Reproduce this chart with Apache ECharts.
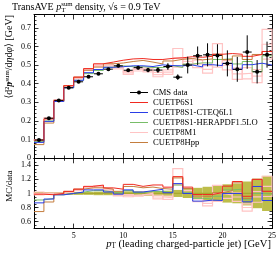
<!DOCTYPE html>
<html><head><meta charset="utf-8">
<script src="https://cdn.jsdelivr.net/npm/echarts@6/dist/echarts.min.js"></script>
<style>html,body{margin:0;padding:0;background:#fff}#c{width:280px;height:253px}</style>
</head><body><div id="c"></div>
<script>
const binEdges = [1,2,3,4,5,6,7,8,9,10,11,12,13,14,15,16,17,18,19,20,21,22,23,24,25];
const dataY   = [0.097,0.214,0.310,0.378,0.410,0.437,0.453,0.478,0.496,0.472,0.486,0.473,0.473,0.492,0.435,0.500,0.550,0.555,0.552,0.509,0.477,0.570,0.464,0.556];
const dataErr = [0.005,0.005,0.005,0.005,0.005,0.005,0.005,0.006,0.008,0.008,0.010,0.012,0.015,0.018,0.015,0.045,0.050,0.062,0.060,0.070,0.067,0.090,0.063,0.070];
const bandHalf = [0.02,0.02,0.02,0.02,0.02,0.02,0.025,0.025,0.03,0.03,0.03,0.035,0.035,0.04,0.05,0.065,0.08,0.095,0.11,0.13,0.14,0.17,0.21,0.25];
const mcP6S1  = [0.096,0.210,0.310,0.389,0.435,0.481,0.507,0.516,0.526,0.533,0.535,0.530,0.530,0.536,0.539,0.545,0.542,0.547,0.558,0.562,0.558,0.547,0.557,0.573];
const mcCTEQ  = [0.084,0.197,0.304,0.378,0.418,0.459,0.476,0.488,0.491,0.496,0.496,0.492,0.501,0.497,0.496,0.500,0.490,0.502,0.497,0.509,0.477,0.502,0.510,0.500];
const mcHERA  = [0.088,0.199,0.304,0.378,0.418,0.454,0.471,0.488,0.496,0.491,0.491,0.487,0.487,0.497,0.487,0.505,0.512,0.511,0.530,0.534,0.506,0.519,0.464,0.550];
const mcM1    = [0.097,0.214,0.310,0.386,0.431,0.476,0.498,0.502,0.486,0.458,0.476,0.473,0.449,0.462,0.539,0.520,0.506,0.477,0.552,0.499,0.453,0.456,0.441,0.612];
const mcM1Err = [0.002,0.002,0.003,0.003,0.004,0.004,0.005,0.006,0.007,0.008,0.008,0.010,0.012,0.012,0.050,0.015,0.020,0.020,0.063,0.025,0.030,0.030,0.035,0.080];
const mcHpp   = [0.072,0.188,0.307,0.389,0.435,0.472,0.489,0.507,0.511,0.519,0.525,0.516,0.506,0.522,0.531,0.535,0.528,0.533,0.558,0.529,0.549,0.530,0.557,0.573];
const xMajor = [5,10,15,20,25];
const yMajorTop = [0,0.1,0.2,0.3,0.4,0.5,0.6,0.7];
const yMajorRatio = [0.6,0.8,1,1.2,1.4];

const F = "'Liberation Serif', 'DejaVu Serif', serif";
const COL = {red:'#f02a20', blue:'#2a3ee6', green:'#78bd68', pink:'#ffc4c4', brown:'#c47d3e', band:'#bdbd4a'};

const xMinor = []; for (let v=1; v<=25; v++) if (v%5) xMinor.push(v);
const yMinorTop = []; for (let k=0; k<=38; k++) if (k%5) yMinorTop.push(+(k*0.02).toFixed(2));
const yMinorRatio = []; for (let k=10; k<=30; k++) yMinorRatio.push(+(k*0.05).toFixed(2));

function stepData(vals){ const out = vals.map((v,i)=>[binEdges[i], v]); out.push([binEdges[vals.length], vals[vals.length-1]]); return out; }
function ratio(vals){ return vals.map((v,i)=>v/dataY[i]); }

const tickBase = {inside:true, lineStyle:{color:'#000', width:0.8}};
function xAx(grid, pos, major, labels){
  return {type:'value', gridIndex:grid, position:pos, min:1, max:25,
    axisLine:{show:major, onZero:false, lineStyle:{color:'#000', width:1}},
    axisTick:Object.assign({show:true, length: major?5:2.5, customValues: major? xMajor : xMinor}, tickBase),
    axisLabel:{show:!!labels, customValues:xMajor, fontFamily:F, fontSize:8, color:'#000', margin:3},
    splitLine:{show:false}};
}
function yAx(grid, pos, major, labels, majorVals, minorVals, min, max){
  return {type:'value', gridIndex:grid, position:pos, min:min, max:max,
    axisLine:{show:major, onZero:false, lineStyle:{color:'#000', width:1}},
    axisTick:Object.assign({show:true, length: major?4.5:2.5, customValues: major? majorVals : minorVals}, tickBase),
    axisLabel:{show:!!labels, customValues:majorVals, fontFamily:F, fontSize:8, color:'#000', margin:3,
      formatter:v=>String(+v.toFixed(2))},
    splitLine:{show:false}};
}

const series = [];
function lineSeries(name, vals, color, width, xi, yi){
  return {name:name, type:'line', step:'end', symbol:'none', xAxisIndex:xi, yAxisIndex:yi,
    data: stepData(vals), lineStyle:{color:color, width:width}, itemStyle:{color:color}, z:3, silent:true};
}
function boxSeries(vals, errs, xi, yi, scale){
  return {type:'custom', xAxisIndex:xi, yAxisIndex:yi, z:2, silent:true,
    data: vals.map((v,i)=>[binEdges[i], binEdges[i+1], v/(scale?scale[i]:1), errs[i]/(scale?scale[i]:1)]),
    encode:{x:[0,1], y:2},
    renderItem(p, api){
      const a = api.coord([api.value(0), api.value(2)+api.value(3)]);
      const b = api.coord([api.value(1), api.value(2)-api.value(3)]);
      return {type:'rect', shape:{x:a[0], y:a[1], width:b[0]-a[0], height:Math.max(b[1]-a[1],0.8)},
        style:{fill:'none', stroke:COL.pink, lineWidth:1.2}};
    }};
}

// ratio band
series.push({type:'custom', xAxisIndex:4, yAxisIndex:2, z:1, silent:true,
  data: bandHalf.map((b,i)=>[binEdges[i], binEdges[i+1], b]), encode:{x:[0,1], y:2},
  renderItem(p, api){
    const a = api.coord([api.value(0), 1+api.value(2)]);
    const b = api.coord([api.value(1), 1-api.value(2)]);
    return {type:'rect', shape:{x:a[0], y:a[1], width:b[0]-a[0], height:b[1]-a[1]}, style:{fill:COL.band}};
  }});
series.push({type:'line', xAxisIndex:4, yAxisIndex:2, symbol:'none', silent:true, z:2,
  data:[[1,1],[25,1]], lineStyle:{color:'#a8a830', width:1.2}});

// upper
series.push(boxSeries(mcM1, mcM1Err, 0, 0, null));
series.push(lineSeries('CUETP8M1', mcM1, COL.pink, 1.2, 0, 0));
series.push(lineSeries('CUETP8S1-HERAPDF1.5LO', mcHERA, COL.green, 1, 0, 0));
series.push(lineSeries('CUETP8Hpp', mcHpp, COL.brown, 1, 0, 0));
series.push(lineSeries('CUETP8S1-CTEQ6L1', mcCTEQ, COL.blue, 1, 0, 0));
series.push(lineSeries('CUETP6S1', mcP6S1, COL.red, 1, 0, 0));
// lower
series.push(boxSeries(mcM1, mcM1Err, 4, 2, dataY));
series.push(lineSeries('r_M1', ratio(mcM1), COL.pink, 1.2, 4, 2));
series.push(lineSeries('r_HERA', ratio(mcHERA), COL.green, 1, 4, 2));
series.push(lineSeries('r_Hpp', ratio(mcHpp), COL.brown, 1, 4, 2));
series.push(lineSeries('r_CTEQ', ratio(mcCTEQ), COL.blue, 1, 4, 2));
series.push(lineSeries('r_P6', ratio(mcP6S1), COL.red, 1, 4, 2));

// data points
series.push({name:'CMS data', type:'custom', xAxisIndex:0, yAxisIndex:0, z:5, silent:true,
  itemStyle:{color:'#000'},
  data: dataY.map((v,i)=>[binEdges[i], binEdges[i+1], v, dataErr[i]]), encode:{x:[0,1], y:2},
  renderItem(p, api){
    const lo=api.value(0), hi=api.value(1), y=api.value(2), e=api.value(3), c=(lo+hi)/2;
    const L=api.coord([lo,y]), R=api.coord([hi,y]), T=api.coord([c,y+e]), B=api.coord([c,y-e]), C=api.coord([c,y]);
    return {type:'group', children:[
      {type:'line', shape:{x1:L[0]+0.5,y1:L[1],x2:R[0]-0.5,y2:R[1]}, style:{stroke:'#000', lineWidth:1}},
      {type:'line', shape:{x1:T[0],y1:T[1],x2:B[0],y2:B[1]}, style:{stroke:'#000', lineWidth:1}},
      {type:'circle', shape:{cx:C[0], cy:C[1], r:2}, style:{fill:'#000'}}
    ]};
  }});

const lineIcon = 'path://M0,0h0.01v0.01h-0.01z M0,3.4h18v1.2h-18z M17.99,7.99h0.01v0.01h-0.01z';
const dataIcon = 'path://M0,0h0.01v0.01h-0.01z M0,3.5h18v1h-18z M9,2a2,2 0 1,1 0,4a2,2 0 1,1 0,-4z M17.99,7.99h0.01v0.01h-0.01z';

function mkRich(fs){
  return {
    i:{fontStyle:'italic', fontFamily:F, fontSize:fs, color:'#000'},
    sub:{fontFamily:F, fontSize:fs*0.68, verticalAlign:'bottom', color:'#000', width:0.1},
    sub2:{fontFamily:F, fontSize:fs*0.68, verticalAlign:'bottom', color:'#000'},
    sup:{fontFamily:F, fontSize:fs*0.68, verticalAlign:'top', color:'#000'}
  };
}

const option = {
  animation:false,
  backgroundColor:'#fff',
  title:{text:'TransAVE {i|p}{sub|T}{sup|sum} density, √s = 0.9 TeV', left:12, top:1, padding:0,
    textStyle:{fontFamily:F, fontSize:10, fontWeight:'normal', color:'#000', lineHeight:13, rich:mkRich(10)}},
  grid:[{left:34, right:8, top:14.5, height:143.5}, {left:34, right:8, top:158.3, height:70.3}],
  xAxis:[xAx(0,'bottom',true,false), xAx(0,'bottom',false,false), xAx(0,'top',true,false), xAx(0,'top',false,false),
         xAx(1,'bottom',true,true), xAx(1,'bottom',false,false), xAx(1,'top',true,false), xAx(1,'top',false,false)],
  yAxis:[yAx(0,'left',true,true,yMajorTop,yMinorTop,0,0.772), yAx(0,'left',false,false,yMajorTop,yMinorTop,0,0.772),
         yAx(1,'left',true,true,yMajorRatio,yMinorRatio,0.5,1.5), yAx(1,'left',false,false,yMajorRatio,yMinorRatio,0.5,1.5),
         yAx(0,'right',true,false,yMajorTop,yMinorTop,0,0.772), yAx(0,'right',false,false,yMajorTop,yMinorTop,0,0.772),
         yAx(1,'right',true,false,yMajorRatio,yMinorRatio,0.5,1.5), yAx(1,'right',false,false,yMajorRatio,yMinorRatio,0.5,1.5)],
  legend:{orient:'vertical', left:130, top:87.5, itemWidth:18, itemHeight:8, itemGap:0, selectedMode:false, padding:0,
    textStyle:{fontFamily:F, fontSize:8.6, color:'#000', lineHeight:10},
    data:[
      {name:'CMS data', icon:dataIcon, itemStyle:{color:'#000'}},
      {name:'CUETP6S1', icon:lineIcon, itemStyle:{color:COL.red}},
      {name:'CUETP8S1-CTEQ6L1', icon:lineIcon, itemStyle:{color:COL.blue}},
      {name:'CUETP8S1-HERAPDF1.5LO', icon:lineIcon, itemStyle:{color:COL.green}},
      {name:'CUETP8M1', icon:lineIcon, itemStyle:{color:COL.pink}},
      {name:'CUETP8Hpp', icon:lineIcon, itemStyle:{color:COL.brown}}
    ]},
  graphic:[
    {type:'text', x:9, y:15, rotation:Math.PI/2, silent:true,
      style:{text:'⟨d²{i|p}{sub|T}{sup|sum}/d{i|η}d{i|φ}⟩ [GeV]', rich:mkRich(10), fontFamily:F, fontSize:10, fill:'#000', align:'right', verticalAlign:'middle'}},
    {type:'text', x:10, y:186, rotation:Math.PI/2, silent:true,
      style:{text:'MC/data', fontFamily:F, fontSize:9, fill:'#000', align:'center', verticalAlign:'middle'}},
    {type:'text', x:271, y:244.5, silent:true,
      style:{text:'{i|p}{sub2|T} (leading charged-particle jet) [GeV]', rich:mkRich(10.6), fontFamily:F, fontSize:10.6, fill:'#000', align:'right', verticalAlign:'middle'}}
  ],
  series:series
};
const chart = echarts.init(document.getElementById('c'), null, {renderer:'canvas'});
chart.setOption(option);
</script></body></html>
